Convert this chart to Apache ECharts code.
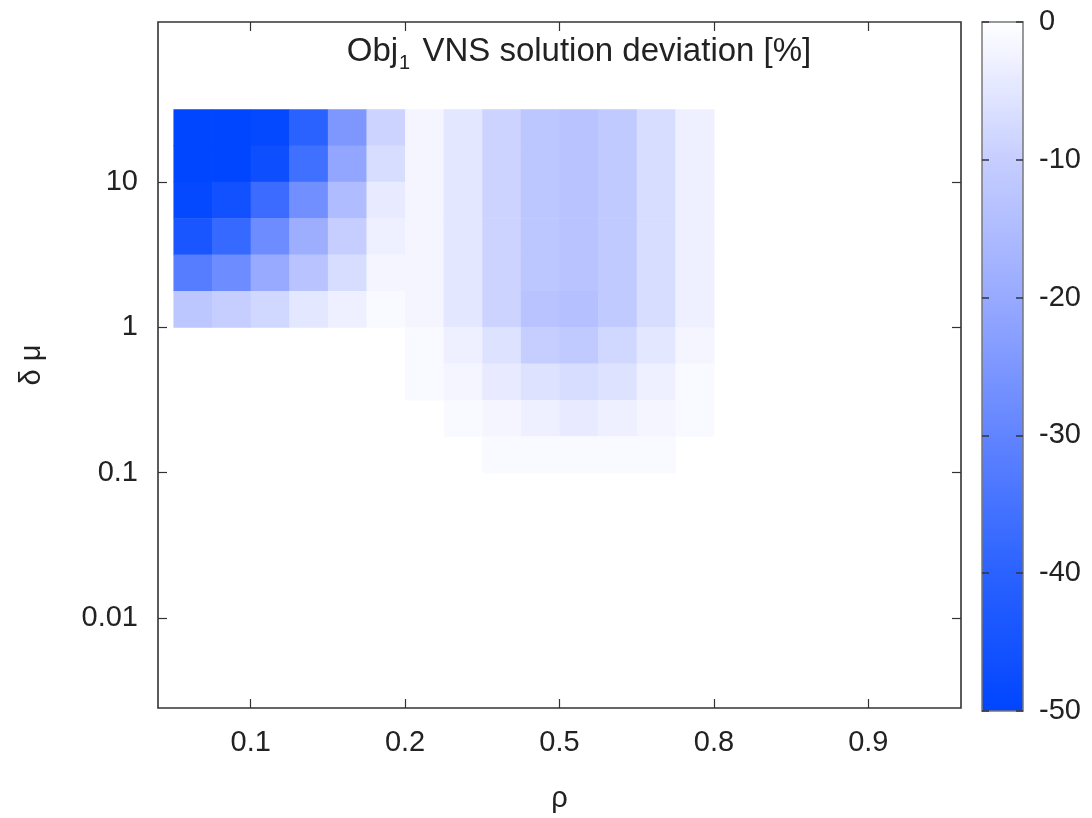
<!DOCTYPE html>
<html>
<head>
<meta charset="utf-8">
<title>Obj1 VNS solution deviation</title>
<script src="https://cdn.jsdelivr.net/npm/echarts@6/dist/echarts.min.js"></script>
<style>
  html, body { margin: 0; background: #fff; }
  #chart { width: 1092px; height: 818px; }
</style>
</head>
<body>
<div id="chart"></div>
<script>
const FONT = 'Liberation Sans, Arial, sans-serif'

// ρ ticks sit at equal steps (index 0..4)
const rhoTicks = [0, 1, 2, 3, 4]
const rhoLabels = ['0.1', '0.2', '0.5', '0.8', '0.9']
// δμ ticks on a log10 scale
const muTicks = [-2, -1, 0, 1]
const muLabels = ['0.01', '0.1', '1', '10']

// cell centres: ρ index and log10(δμ), cells are 0.25 wide in both
const CELL = 0.25
const cellCols = [-0.375, -0.125, 0.125, 0.375, 0.625, 0.875, 1.125, 1.375, 1.625, 1.875, 2.125, 2.375, 2.625, 2.875]
const cellRows = [1.375, 1.125, 0.875, 0.625, 0.375, 0.125, -0.125, -0.375, -0.625, -0.875]

// deviation [%], one row per cellRows entry
const devRow0 = [-50, -50, -49, -40, -25, -9, -2, -5, -9, -12, -13, -11, -7, -3]
const devRow1 = [-50, -50, -47, -36, -21, -7, -2, -5, -9, -12, -13, -11, -7, -3]
const devRow2 = [-49, -46, -37, -27, -15, -4, -2, -5, -9, -12, -13, -11, -7, -3]
const devRow3 = [-44, -38, -28, -19, -10, -3, -2, -5, -9, -12, -13, -11, -7, -3]
const devRow4 = [-32, -28, -20, -13, -7, -2, -2, -5, -9, -12, -13, -11, -7, -3]
const devRow5 = [-12, -10, -8, -5, -3, -1, -2, -5, -9, -13, -14, -11, -7, -3]
const devRow6 = [0, 0, 0, 0, 0, 0, -1, -3, -6, -10, -11, -8, -5, -2]
const devRow7 = [0, 0, 0, 0, 0, 0, -1, -2, -4, -6, -7, -6, -3, -1]
const devRow8 = [0, 0, 0, 0, 0, 0, 0, -1, -2, -3, -4, -3, -2, -1]
const devRow9 = [0, 0, 0, 0, 0, 0, 0, 0, -1, -1, -1, -1, -1, 0]
const deviation = [devRow0, devRow1, devRow2, devRow3, devRow4, devRow5, devRow6, devRow7, devRow8, devRow9]

const colorbarColors = ['#0045ff', '#2a62ff', '#6184ff', '#98aaff', '#c6ceff', '#ffffff']

const cells = []
deviation.forEach((row, i) => {
  row.forEach((v, j) => {
    if (v !== 0) cells.push([cellCols[j], cellRows[i], v])
  })
})

const chart = echarts.init(document.getElementById('chart'))

const labelStyle = { fontFamily: FONT, fontSize: 29, color: '#222' }
const tickLine = { color: '#333', width: 1.2 }

const plotX = (pos) => ({
  type: 'value', gridIndex: 0, position: pos, min: -0.6, max: 4.6,
  axisLine: { show: false, onZero: false },
  axisTick: { inside: true, length: 9, customValues: rhoTicks, lineStyle: tickLine },
  axisLabel: {
    show: pos === 'bottom', customValues: rhoTicks, margin: 20, ...labelStyle,
    formatter: (v) => rhoLabels[rhoTicks.indexOf(Math.round(v))],
  },
  splitLine: { show: false },
})
const plotY = (pos) => ({
  type: 'value', gridIndex: 0, position: pos, min: -2.62, max: 2.1,
  axisLine: { show: false, onZero: false },
  axisTick: { inside: true, length: 9, customValues: muTicks, lineStyle: tickLine },
  axisLabel: {
    show: pos === 'left', customValues: muTicks, margin: 20, ...labelStyle,
    formatter: (v) => muLabels[muTicks.indexOf(Math.round(v))],
  },
  splitLine: { show: false },
})

const cbAxisLine = { show: true, onZero: false, lineStyle: { color: '#777', width: 1.5 } }

const option = {
  backgroundColor: '#fff',
  animation: false,
  title: {
    text: 'Obj{s|1} VNS solution deviation [%]',
    left: 574, top: 26, textAlign: 'center',
    textStyle: {
      fontFamily: FONT, fontSize: 33, fontWeight: 'normal', color: '#222',
      rich: { s: { fontFamily: FONT, fontSize: 20, color: '#222', padding: [22, 3, 0, 1] } },
    },
  },
  grid: [
    { left: 158, top: 22, width: 803, height: 689, show: true, borderColor: '#333', borderWidth: 1.6, backgroundColor: 'transparent' },
    { left: 982, top: 22, width: 41, height: 689, show: false },
  ],
  xAxis: [
    { ...plotX('bottom'), name: 'ρ', nameLocation: 'middle', nameGap: 76, nameTextStyle: labelStyle },
    plotX('top'),
    { type: 'value', gridIndex: 1, position: 'bottom', min: 0, max: 1, z: 10,
      axisLine: cbAxisLine, axisTick: { show: false }, axisLabel: { show: false }, splitLine: { show: false } },
    { type: 'value', gridIndex: 1, position: 'top', min: 0, max: 1, z: 10,
      axisLine: cbAxisLine, axisTick: { show: false }, axisLabel: { show: false }, splitLine: { show: false } },
  ],
  yAxis: [
    { ...plotY('left'), name: 'δ μ', nameLocation: 'middle', nameGap: 112, nameRotate: 90, nameTextStyle: labelStyle },
    plotY('right'),
    { type: 'value', gridIndex: 1, position: 'right', min: -50, max: 0, interval: 10, z: 10,
      axisLine: cbAxisLine,
      axisTick: { inside: true, length: 7, lineStyle: { color: '#334', width: 1.5 } },
      axisLabel: { margin: 16, ...labelStyle, showMinLabel: true, showMaxLabel: true },
      splitLine: { show: false } },
    { type: 'value', gridIndex: 1, position: 'left', min: -50, max: 0, interval: 10, z: 10,
      axisLine: cbAxisLine,
      axisTick: { inside: true, length: 7, lineStyle: { color: '#334', width: 1.5 } },
      axisLabel: { show: false },
      splitLine: { show: false } },
  ],
  visualMap: {
    type: 'continuous', min: -50, max: 0, dimension: 2, seriesIndex: 0,
    calculable: false, hoverLink: false,
    left: 982, top: 22, padding: 0, itemWidth: 41, itemHeight: 689,
    inRange: { color: colorbarColors },
  },
  series: [
    {
      type: 'custom',
      xAxisIndex: 0, yAxisIndex: 0,
      encode: { x: 0, y: 1 },
      data: cells,
      renderItem: (params, api) => {
        const x = api.value(0)
        const y = api.value(1)
        const p0 = api.coord([x - CELL / 2, y + CELL / 2])
        const p1 = api.coord([x + CELL / 2, y - CELL / 2])
        return {
          type: 'rect',
          shape: { x: p0[0], y: p0[1], width: p1[0] - p0[0] + 0.6, height: p1[1] - p0[1] + 0.6 },
          style: { fill: api.visual('color') },
        }
      },
    },
  ],
}

chart.setOption(option)
</script>
</body>
</html>
